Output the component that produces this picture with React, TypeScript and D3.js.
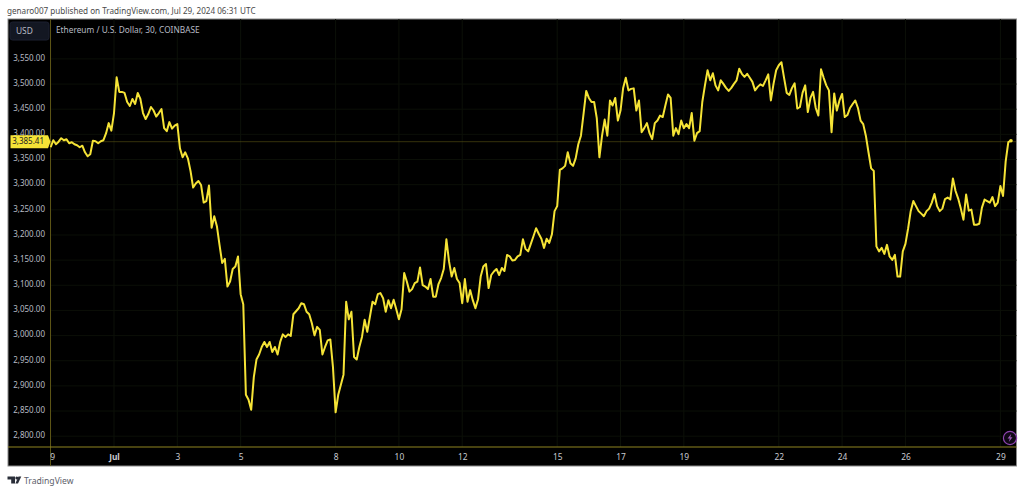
import React from "react";
import * as d3 from "d3";

// ETH/USD close, sampled every 2 hours from Jun 29 00:00 UTC
const startTime = Date.UTC(2024, 5, 29, 0, 0);
const stepHours = 2;
const prices = [
  3372,3386,3378,3383,3390,3386,3388,3380,3382,3378,3376,3372,
  3375,3362,3354,3358,3385,3384,3380,3384,3386,3400,3420,3405,
  3440,3511,3482,3482,3480,3462,3454,3468,3458,3480,3468,3440,
  3428,3438,3452,3445,3433,3440,3448,3410,3404,3422,3409,3415,
  3418,3370,3352,3362,3350,3325,3292,3300,3305,3297,3262,3265,
  3296,3212,3235,3215,3178,3142,3150,3095,3105,3130,3135,3155,
  3080,3060,2880,2870,2850,2915,2950,2960,2975,2985,2975,2985,
  2965,2975,2960,2985,3000,2995,3000,2997,3040,3046,3052,3062,
  3060,3045,3040,3022,2998,3015,3009,2960,2975,2988,2990,2935,
  2845,2880,2900,2920,3065,3030,3045,2955,2950,2975,2995,3029,
  3005,3035,3065,3060,3080,3082,3072,3045,3068,3052,3069,3050,
  3030,3050,3122,3105,3085,3090,3102,3105,3133,3098,3095,3090,
  3110,3075,3075,3100,3112,3130,3189,3145,3115,3132,3110,3102,
  3062,3110,3065,3088,3068,3052,3070,3115,3135,3140,3092,3118,
  3125,3130,3118,3132,3126,3158,3155,3147,3148,3155,3158,3189,
  3170,3165,3180,3195,3211,3200,3190,3172,3190,3182,3199,3245,
  3255,3327,3330,3335,3362,3340,3335,3350,3378,3395,3439,3484,
  3470,3462,3462,3430,3352,3395,3427,3395,3465,3455,3470,3425,
  3445,3490,3510,3485,3488,3489,3445,3465,3402,3410,3420,3400,
  3388,3420,3425,3435,3432,3455,3477,3470,3395,3410,3398,3425,
  3410,3418,3410,3440,3385,3400,3404,3462,3495,3525,3505,3519,
  3495,3485,3505,3498,3490,3484,3490,3498,3505,3528,3518,3512,
  3518,3510,3502,3485,3492,3497,3494,3505,3517,3465,3498,3525,
  3535,3541,3510,3480,3476,3490,3499,3449,3452,3480,3495,3442,
  3470,3482,3450,3435,3527,3510,3495,3485,3402,3479,3445,3465,
  3478,3432,3436,3450,3458,3465,3450,3425,3418,3395,3362,3330,
  3325,3175,3165,3172,3160,3178,3155,3148,3158,3115,3115,3165,
  3180,3210,3245,3265,3255,3245,3240,3235,3245,3250,3262,3279,
  3255,3245,3250,3269,3272,3268,3310,3285,3270,3250,3228,3278,
  3246,3248,3218,3218,3220,3252,3268,3265,3262,3273,3255,3262,
  3295,3275,3344,3382,3385,
];
const lastPrice = 3385.41;
const priceTicks = [2800,2850,2900,2950,3000,3050,3100,3150,3200,3250,3300,3350,3400,3450,3500,3550];
const timeTickLabels = ["9","Jul","3","5","8","10","12","15","17","19","22","24","26","29"];
const timeTickDates = [
  [5,29],[6,1],[6,3],[6,5],[6,8],[6,10],[6,12],[6,15],[6,17],[6,19],[6,22],[6,24],[6,26],[6,29],
];

const W = 1024, H = 492;
const frame = { l: 8, t: 19, r: 1016.5, b: 466 };
const axisX = 50.5, axisY = 447;

const y = d3.scaleLinear().domain([2800, 3550]).range([436.2, 58.9]);
const x = d3.scaleUtc()
  .domain([new Date(Date.UTC(2024, 6, 1)), new Date(Date.UTC(2024, 6, 29))])
  .range([114, 1000.4]);

const fmt = d3.format(",.2f");
const font = "'Noto Sans', 'Open Sans', sans-serif";
const series = prices.map((p, i) => ({ t: new Date(startTime + i * stepHours * 3600e3), p }));
const linePath = d3.line<{ t: Date; p: number }>().x(d => x(d.t)).y(d => y(d.p))(series) as string;
const tickX = timeTickDates.map(([m, d]) => x(new Date(Date.UTC(2024, m, d))));
const last = series[series.length - 1];

export default function App() {
  return (
    <svg width={W} height={H} viewBox={`0 0 ${W} ${H}`}
      style={{ position: "absolute", left: 0, top: 0, background: "#fff" }} fontFamily={font}>
      <text x={7} y={14} fontSize={8.15} fill="#4a4a4a">genaro007 published on TradingView.com, Jul 29, 2024 06:31 UTC</text>

      <rect x={frame.l} y={frame.t} width={frame.r - frame.l} height={frame.b - frame.t} fill="#000" stroke="#8a8a8a" strokeWidth={1} />

      {priceTicks.map(p => (
        <line key={p} x1={axisX} x2={frame.r} y1={y(p)} y2={y(p)} stroke="#0b0f07" strokeWidth={1} />
      ))}
      {tickX.map((tx, i) => (
        <line key={i} x1={tx} x2={tx} y1={frame.t} y2={axisY} stroke="#0c1008" strokeWidth={1} />
      ))}

      <line x1={axisX} x2={axisX} y1={frame.t} y2={frame.b} stroke="#5c5415" strokeWidth={1} />
      <line x1={frame.l} x2={frame.r} y1={axisY} y2={axisY} stroke="#8f8420" strokeWidth={1} />

      <line x1={axisX} x2={frame.r} y1={y(lastPrice)} y2={y(lastPrice)} stroke="#6b6318" strokeWidth={1} strokeDasharray="1 1" />

      <g transform="translate(0,-1.2)">
        <path d={linePath} fill="none" stroke="#f5e336" strokeWidth={2} strokeLinejoin="round" />
        <circle cx={x(last.t)} cy={y(last.p)} r={1.8} fill="#f5e336" />
      </g>

      {priceTicks.map(p => (
        <text key={p} x={45} y={y(p) + 1.8} textAnchor="end" fontSize={8} fill="#b8bbc4">{fmt(p)}</text>
      ))}

      <path d={`M10.5 ${y(lastPrice) - 6.5} H48 L50.5 ${y(lastPrice)} L48 ${y(lastPrice) + 6.5} H10.5 Z`} fill="#f5e336" />
      <text x={44} y={y(lastPrice) + 2.8} textAnchor="end" fontSize={8} fill="#222">{fmt(lastPrice)}</text>

      {timeTickLabels.map((l, i) => (
        <text key={l + i} x={i === 0 ? tickX[i] + 2 : tickX[i] + 0.5} y={460} textAnchor="middle" fontSize={8.4}
          fontWeight={l === "Jul" ? 700 : 400} fill="#c8cad0">{l}</text>
      ))}

      <rect x={10} y={22} width={39} height={18} rx={2.5} fill="#131722" stroke="#1c2030" />
      <text x={16} y={34} fontSize={8.4} fill="#b8bbc4">USD</text>
      <text x={56} y={33} fontSize={8.3} fill="#b8bbc4">Ethereum / U.S. Dollar, 30, COINBASE</text>

      <circle cx={1010} cy={438} r={6.6} fill="#100816" stroke="#8e44b0" strokeWidth={1.2} />
      <path d="M1011.3 433.8 L1007.6 438.6 H1009.8 L1008.8 442 L1012.5 437.2 H1010.3 Z" fill="#9c5cb8" />

      <g fill="#2a2e39">
        <path d="M7.5 476.5 H15 V483.5 H11.2 V479.6 H7.5 Z" />
        <circle cx={16.8} cy={478} r={1.5} />
        <path d="M18.5 476.5 H21.3 L18 483.5 H15.4 Z" />
      </g>
      <text x={24} y={483.5} fontSize={8.6} fill="#5d606b">TradingView</text>
    </svg>
  );
}
